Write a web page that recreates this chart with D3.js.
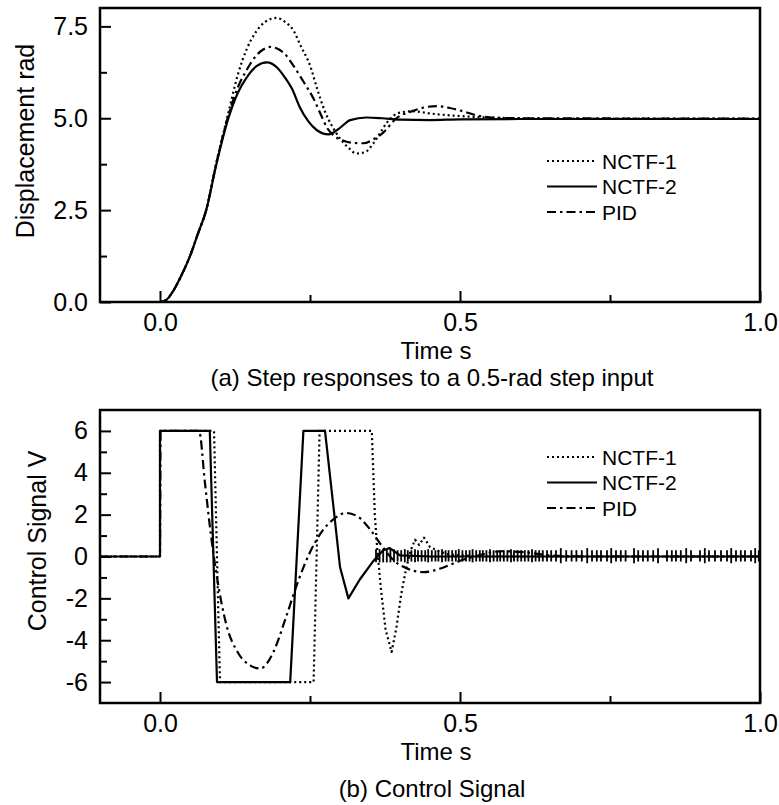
<!doctype html>
<html lang="en">
<head>
  <meta charset="UTF-8">
  <title>Step responses and control signal</title>
  <script src="https://cdn.jsdelivr.net/npm/d3@7"></script>
  <style>
    body { margin: 0; background: #fff; }
    text { font-family: "Liberation Sans", Arial, sans-serif; fill: #000; }
  </style>
</head>
<body>
<svg width="779" height="805" id="chart"></svg>
<script>
  // ---- data ----
  var seriesNames = ['NCTF-1', 'NCTF-2', 'PID'];

  // (a) step responses, displacement
  var stepNCTF1T = [-0.1, 0, 0.01, 0.022, 0.035, 0.05, 0.063, 0.077, 0.094, 0.114, 0.13, 0.145, 0.16, 0.175, 0.194, 0.21, 0.222, 0.235, 0.25, 0.262, 0.275, 0.288, 0.3, 0.314, 0.327, 0.342, 0.355, 0.367, 0.378, 0.39, 0.405, 0.422, 0.45, 0.5, 0.533, 0.6, 0.7, 0.8, 0.9, 1.0];
  var stepNCTF1V = [0, 0, 0.05, 0.3, 0.7, 1.25, 1.85, 2.5, 3.8, 5.15, 6.2, 6.9, 7.35, 7.62, 7.73, 7.6, 7.4, 6.95, 6.44, 5.8, 5.18, 4.75, 4.45, 4.2, 4.04, 4.08, 4.3, 4.6, 4.88, 5.08, 5.17, 5.19, 5.13, 5.06, 5.03, 5.0, 4.99, 4.99, 4.99, 4.99];

  var stepNCTF2T = [-0.1, 0, 0.01, 0.022, 0.035, 0.05, 0.063, 0.077, 0.094, 0.114, 0.13, 0.144, 0.161, 0.178, 0.195, 0.206, 0.22, 0.233, 0.247, 0.261, 0.281, 0.3, 0.317, 0.344, 0.37, 0.4, 0.45, 0.5, 0.6, 0.7, 0.8, 0.9, 1.0];
  var stepNCTF2V = [0, 0, 0.05, 0.3, 0.7, 1.25, 1.85, 2.5, 3.75, 5.0, 5.7, 6.1, 6.42, 6.52, 6.38, 6.16, 5.8, 5.3, 4.92, 4.68, 4.56, 4.74, 4.95, 5.02, 5.0, 4.96, 4.95, 4.97, 4.98, 4.98, 4.98, 4.98, 4.98];

  var stepPIDT = [-0.1, 0, 0.01, 0.022, 0.035, 0.05, 0.063, 0.077, 0.094, 0.114, 0.13, 0.144, 0.16, 0.172, 0.183, 0.195, 0.208, 0.222, 0.239, 0.256, 0.268, 0.278, 0.292, 0.306, 0.322, 0.339, 0.355, 0.372, 0.394, 0.422, 0.442, 0.462, 0.483, 0.505, 0.533, 0.56, 0.6, 0.7, 0.8, 0.9, 1.0];
  var stepPIDV = [0, 0, 0.05, 0.3, 0.7, 1.25, 1.85, 2.5, 3.78, 5.08, 5.85, 6.3, 6.7, 6.87, 6.94, 6.9, 6.75, 6.44, 6.0, 5.53, 5.1, 4.75, 4.5, 4.39, 4.33, 4.32, 4.42, 4.61, 5.0, 5.2, 5.3, 5.33, 5.28, 5.19, 5.06, 5.01, 5.0, 5.0, 4.99, 4.99, 4.99];

  // (b) control signal
  var ctrlNCTF1T = [-0.1, 0, 0, 0.09, 0.1, 0.256, 0.266, 0.353, 0.358, 0.362, 0.368, 0.376, 0.386, 0.394, 0.402, 0.41, 0.418, 0.425, 0.432, 0.44, 0.45, 0.465, 0.48, 0.5, 0.55, 0.6, 0.7, 0.8, 0.9, 1.0];
  var ctrlNCTF1V = [0, 0, 6, 6, -6, -6, 6, 6, 2, 0.4, -1.5, -3.5, -4.56, -3.4, -1.8, -0.6, 0.3, 0.8, 0.55, 0.9, 0.45, 0.25, 0.1, 0.05, 0, 0, 0, 0, 0, 0];

  var ctrlNCTF2T = [-0.1, 0, 0, 0.083, 0.095, 0.217, 0.239, 0.275, 0.289, 0.3, 0.314, 0.333, 0.356, 0.372, 0.383, 0.4, 0.45, 0.5, 0.6, 0.7, 0.8, 0.9, 1.0];
  var ctrlNCTF2V = [0, 0, 6, 6, -6, -6, 6, 6, 2.4, -0.5, -2.0, -1.1, -0.2, 0.3, 0.4, 0.05, 0, 0, 0, 0, 0, 0, 0];

  var ctrlPIDT = [-0.1, 0, 0.001, 0.065, 0.075, 0.085, 0.095, 0.11, 0.13, 0.15, 0.167, 0.19, 0.21, 0.23, 0.25, 0.27, 0.29, 0.31, 0.33, 0.35, 0.37, 0.39, 0.41, 0.44, 0.47, 0.5, 0.53, 0.57, 0.61, 0.65, 0.7, 1.0];
  var ctrlPIDV = [0, 0, 6, 6, 3.5, 1.0, -1.0, -3.2, -4.6, -5.2, -5.35, -4.5, -2.9, -1.2, 0.2, 1.2, 1.8, 2.08, 1.9, 1.3, 0.5, -0.2, -0.55, -0.75, -0.55, -0.2, 0.05, 0.25, 0.2, 0.05, 0, 0];

  // chattering of the NCTF control once settled (spike times and heights)
  var chatterT = [0.36, 0.366, 0.372, 0.378, 0.384, 0.39, 0.396, 0.402, 0.408, 0.413, 0.419, 0.425, 0.43, 0.436, 0.442, 0.447, 0.453, 0.459, 0.464, 0.47, 0.476, 0.481, 0.487, 0.493, 0.498, 0.504, 0.51, 0.516, 0.521, 0.527, 0.533, 0.538, 0.544, 0.55, 0.556, 0.562, 0.567, 0.573, 0.579, 0.585, 0.59, 0.596, 0.602, 0.608, 0.614, 0.62, 0.626, 0.632, 0.638, 0.645, 0.652, 0.66, 0.668, 0.677, 0.686, 0.694, 0.703, 0.712, 0.72, 0.728, 0.735, 0.745, 0.752, 0.76, 0.768, 0.776, 0.79, 0.797, 0.805, 0.813, 0.822, 0.83, 0.845, 0.853, 0.86, 0.868, 0.877, 0.885, 0.9, 0.908, 0.915, 0.925, 0.935, 0.945, 0.952, 0.96, 0.968, 0.975, 0.985, 0.992, 0.998];
  var chatterH = [0.35, 0.35, 0.35, 0.35, 0.35, 0.35, 0.3, 0.3, 0.35, 0.3, 0.3, 0.35, 0.3, 0.3, 0.3, 0.35, 0.3, 0.3, 0.3, 0.35, 0.3, 0.3, 0.3, 0.3, 0.35, 0.3, 0.3, 0.3, 0.35, 0.3, 0.3, 0.3, 0.3, 0.35, 0.3, 0.3, 0.3, 0.3, 0.3, 0.35, 0.3, 0.3, 0.3, 0.3, 0.3, 0.35, 0.3, 0.3, 0.3, 0.3, 0.3, 0.3, 0.4, 0.3, 0.3, 0.3, 0.3, 0.4, 0.3, 0.3, 0.3, 0.3, 0.4, 0.3, 0.3, 0.3, 0.4, 0.3, 0.3, 0.3, 0.3, 0.4, 0.3, 0.3, 0.3, 0.3, 0.4, 0.3, 0.3, 0.4, 0.3, 0.3, 0.3, 0.3, 0.4, 0.3, 0.3, 0.3, 0.3, 0.4, 0.3];

  var xTicks = [0, 0.5, 1.0], xMinor = [0.25, 0.75];
  var stepTicks = [0, 2.5, 5, 7.5], stepMinor = [1.25, 3.75, 6.25];
  var ctrlTicks = [-6, -4, -2, 0, 2, 4, 6], ctrlMinor = [-5, -3, -1, 1, 3, 5];

  // ---- drawing ----
  var svg = d3.select('#chart');
  var styles = {
    'NCTF-1': {dash: '2,3', width: 2.2},
    'NCTF-2': {dash: null, width: 2.2},
    'PID': {dash: '9,4,2.5,4', width: 2.2}
  };

  function panel(cfg) {
    var x = d3.scaleLinear().domain([-0.1, 1.0]).range([100, 760]);
    var y = d3.scaleLinear().domain(cfg.yDomain).range([cfg.bottom, cfg.top]);
    var g = svg.append('g');

    g.append('g')
      .attr('transform', 'translate(0,' + cfg.bottom + ')')
      .call(d3.axisBottom(x).tickValues(xTicks).tickFormat(d3.format('.1f')).tickSize(-11).tickPadding(11))
      .call(function (a) { a.select('.domain').remove(); })
      .call(function (a) { a.selectAll('text').attr('font-size', 25).attr('font-family', null); });
    g.append('g')
      .attr('transform', 'translate(0,' + cfg.bottom + ')')
      .call(d3.axisBottom(x).tickValues(xMinor).tickFormat('').tickSize(-7))
      .call(function (a) { a.select('.domain').remove(); });

    g.append('g')
      .attr('transform', 'translate(100,0)')
      .call(d3.axisLeft(y).tickValues(cfg.yTicks).tickFormat(cfg.yFormat).tickSize(-11).tickPadding(12))
      .call(function (a) { a.select('.domain').remove(); })
      .call(function (a) { a.selectAll('text').attr('font-size', 25).attr('font-family', null); });
    g.append('g')
      .attr('transform', 'translate(100,0)')
      .call(d3.axisLeft(y).tickValues(cfg.yMinor).tickFormat('').tickSize(-7))
      .call(function (a) { a.select('.domain').remove(); });

    g.selectAll('.tick line').attr('stroke', '#000').attr('stroke-width', 2);

    g.append('rect')
      .attr('x', 100).attr('y', cfg.top)
      .attr('width', 660).attr('height', cfg.bottom - cfg.top)
      .attr('fill', 'none').attr('stroke', '#000').attr('stroke-width', 2.5);

    if (cfg.chatter) {
      g.selectAll('.chat').data(d3.zip(chatterT, chatterH)).enter().append('line')
        .attr('x1', function (d) { return x(d[0]); })
        .attr('x2', function (d) { return x(d[0]); })
        .attr('y1', function (d) { return y(d[1]); })
        .attr('y2', function (d) { return y(-d[1] * 0.8); })
        .attr('stroke', '#000').attr('stroke-width', 1.8);
    }

    cfg.series.forEach(function (s) {
      var line = d3.line()
        .x(function (d) { return x(d[0]); })
        .y(function (d) { return y(d[1]); })
        .curve(s.curve);
      var st = styles[s.name];
      g.append('path')
        .datum(d3.zip(s.t, s.v))
        .attr('d', line)
        .attr('fill', 'none')
        .attr('stroke', '#000')
        .attr('stroke-width', st.width)
        .attr('stroke-dasharray', st.dash)
        .attr('stroke-linejoin', 'round');
    });

    // legend
    seriesNames.forEach(function (n, i) {
      var ly = cfg.legendY + i * 25.5;
      var st = styles[n];
      g.append('line')
        .attr('x1', 547).attr('x2', 597).attr('y1', ly).attr('y2', ly)
        .attr('stroke', '#000').attr('stroke-width', st.width)
        .attr('stroke-dasharray', st.dash);
      g.append('text')
        .attr('x', 602).attr('y', ly + 7.5)
        .attr('font-size', 21)
        .text(n);
    });

    g.append('text')
      .attr('transform', 'translate(' + cfg.yTitleX + ',' + cfg.yTitleY + ') rotate(-90)')
      .attr('text-anchor', 'middle')
      .attr('font-size', 25)
      .text(cfg.yTitle);

    g.append('text')
      .attr('x', 436).attr('y', cfg.bottom + 57)
      .attr('text-anchor', 'middle')
      .attr('font-size', 24)
      .text('Time s');

    g.append('text')
      .attr('x', 432).attr('y', cfg.captionY)
      .attr('text-anchor', 'middle')
      .attr('font-size', 24)
      .text(cfg.caption);
  }

  panel({
    top: 8, bottom: 302, yDomain: [0, 8],
    yTicks: stepTicks, yMinor: stepMinor, yFormat: d3.format('.1f'),
    yTitle: 'Displacement rad', yTitleX: 34, yTitleY: 141,
    legendY: 161, captionY: 386,
    caption: '(a) Step responses to a 0.5-rad step input',
    series: [
      {name: 'PID', t: stepPIDT, v: stepPIDV, curve: d3.curveMonotoneX},
      {name: 'NCTF-1', t: stepNCTF1T, v: stepNCTF1V, curve: d3.curveMonotoneX},
      {name: 'NCTF-2', t: stepNCTF2T, v: stepNCTF2V, curve: d3.curveMonotoneX}
    ]
  });

  panel({
    top: 410, bottom: 703, yDomain: [-7, 7],
    yTicks: ctrlTicks, yMinor: ctrlMinor, yFormat: function (d) { return String(d); },
    yTitle: 'Control Signal V', yTitleX: 46, yTitleY: 541,
    legendY: 457, captionY: 797,
    caption: '(b) Control Signal',
    chatter: true,
    series: [
      {name: 'PID', t: ctrlPIDT, v: ctrlPIDV, curve: d3.curveMonotoneX},
      {name: 'NCTF-1', t: ctrlNCTF1T, v: ctrlNCTF1V, curve: d3.curveLinear},
      {name: 'NCTF-2', t: ctrlNCTF2T, v: ctrlNCTF2V, curve: d3.curveLinear}
    ]
  });
</script>
</body>
</html>
